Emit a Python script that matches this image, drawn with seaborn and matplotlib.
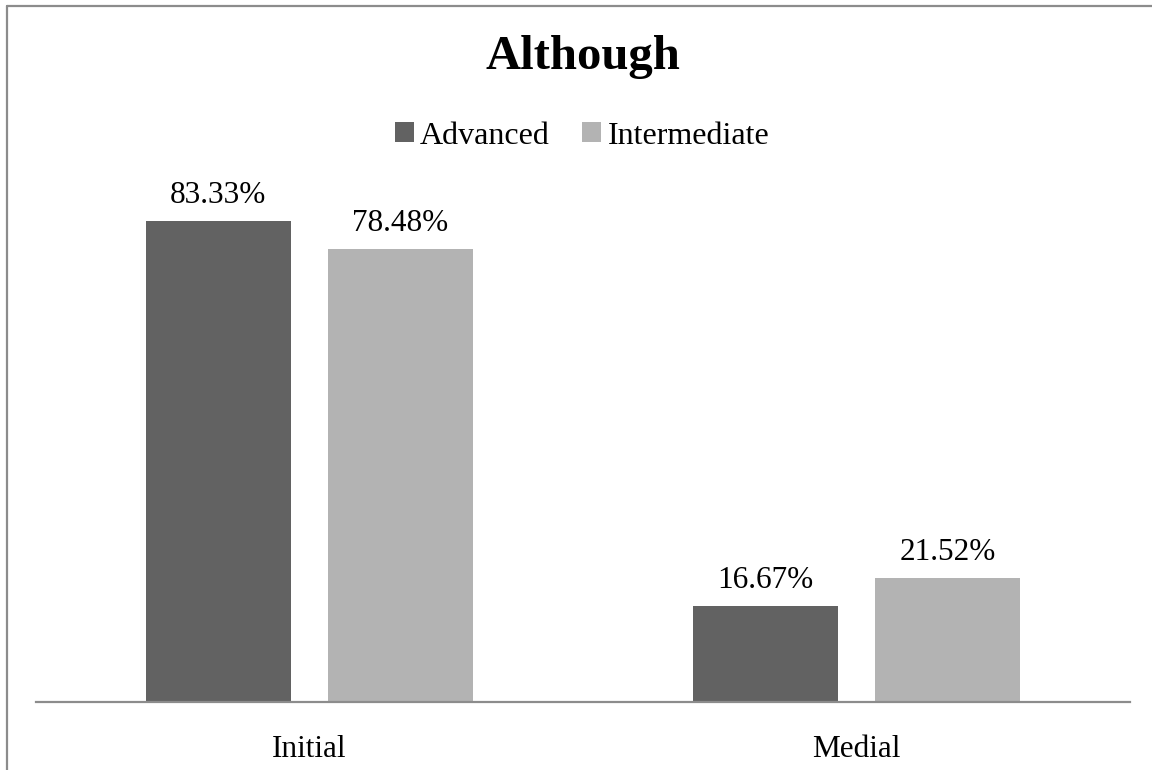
import matplotlib
matplotlib.use("Agg")
import matplotlib.pyplot as plt
import seaborn as sns
import pandas as pd
from matplotlib.lines import Line2D

categories = ["Initial", "Medial"]
series_names = ["Advanced", "Intermediate"]
advanced = [83.33, 16.67]
intermediate = [78.48, 21.52]
title = "Although"
colors = ["#626262", "#b3b3b3"]

df = pd.DataFrame({
    "position": categories * 2,
    "group": [series_names[0]] * len(categories) + [series_names[1]] * len(categories),
    "value": advanced + intermediate,
})

sns.set_theme(style="white")
plt.rcParams["font.family"] = ["Liberation Serif", "DejaVu Serif"]
plt.rcParams["text.color"] = "black"

fig = plt.figure(figsize=(11.52, 7.70), dpi=100)
ax = fig.add_axes([36 / 1152, 68 / 770, (1130 - 36) / 1152, 519.5 / 770])

sns.barplot(data=df, x="position", y="value", hue="group", order=categories,
            hue_order=series_names, palette=colors, saturation=1,
            width=0.666, gap=0.2, ax=ax, legend=True, edgecolor="none")

ax.set_ylim(0, 90)
ax.set_xlim(-0.5, 1.5)
for c in ax.containers:
    ax.bar_label(c, labels=[f"{v:.2f}%" for v in c.datavalues], padding=8,
                 fontsize=22.5, color="black")

for s in ["top", "right", "left"]:
    ax.spines[s].set_visible(False)
ax.spines["bottom"].set_color("#8c8c8c")
ax.spines["bottom"].set_linewidth(1.6)
ax.set_yticks([])
ax.set_xlabel("")
ax.set_ylabel("")
ax.tick_params(axis="x", length=0, pad=24, labelsize=22.5, labelcolor="black")
ax.grid(False)

handles, labels = ax.get_legend_handles_labels()
leg = ax.legend(handles, labels, loc="center", bbox_to_anchor=(582 / 1152, 1 - 136 / 770),
                bbox_transform=fig.transFigure, ncol=2, frameon=False, fontsize=23,
                handlelength=0.6, handleheight=0.6, handletextpad=0.2, columnspacing=1.0)
for t in leg.get_texts():
    t.set_color("black")

fig.text(583 / 1152, 1 - 57 / 770, title, ha="center", va="center", fontsize=35,
         fontweight="bold", color="black")

fig.add_artist(Line2D([7 / 1152, 7 / 1152], [0, 1 - 6 / 770], transform=fig.transFigure,
                      color="#8c8c8c", linewidth=1.6))
fig.add_artist(Line2D([7 / 1152, 1], [1 - 6 / 770, 1 - 6 / 770], transform=fig.transFigure,
                      color="#8c8c8c", linewidth=1.6))

fig.savefig("out.png", dpi=100, facecolor="white")
